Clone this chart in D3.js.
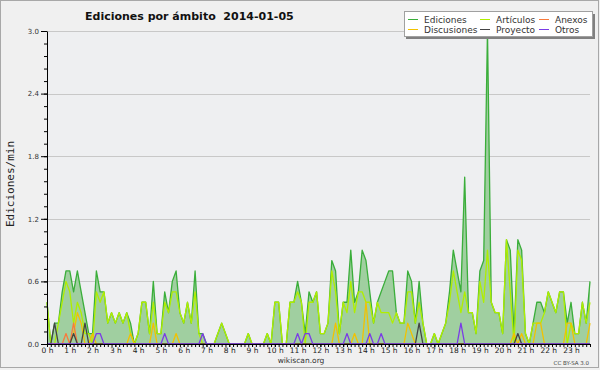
<!DOCTYPE html>
<html>
  <head>
    <meta charset="utf-8">
    <title>Ediciones por ámbito 2014-01-05</title>
    <script src="https://d3js.org/d3.v7.min.js"></script>
    <style>
      body { margin: 0; background: #f0f0f0; }
      svg text { font-family: "DejaVu Sans", sans-serif; }
    </style>
  </head>
  <body>
    <script>

      // one value per 10 minutes (144 steps), in edits per minute
      var ediciones = [
        0.4,0,0.2,0.2,0.5,0.7,0.7,0.5,0.7,0.5,0.3,0.1,
        0.1,0.7,0.5,0.5,0.2,0.3,0.2,0.3,0.2,0.3,0.2,0,
        0.1,0.4,0.4,0.1,0.6,0.1,0.1,0.5,0.3,0.6,0.7,0.3,
        0.2,0.4,0.2,0.7,0.1,0.1,0,0,0,0.1,0.2,0.1,
        0,0,0,0,0,0.1,0,0,0,0,0.1,0,
        0.4,0.4,0,0,0.4,0.4,0.6,0.4,0.1,0.5,0.4,0.5,
        0.1,0.1,0.2,0.8,0.7,0.1,0.4,0.4,0.9,0.4,0.5,0.9,
        0.8,0.5,0.2,0.4,0.5,0.6,0.7,0.7,0.3,0.2,0.2,0.7,
        0.6,0.2,0.6,0.2,0,0,0.1,0,0.1,0.2,0.5,0.9,
        0.7,0.5,1.6,0.3,0.3,0.1,0.7,0.8,3.0,0.4,0.3,0.3,
        0.1,1.0,0.9,0.1,1.0,0.9,0.1,0,0.2,0.4,0.4,0.3,
        0.5,0.4,0.3,0.5,0.5,0.2,0.4,0.1,0.1,0.4,0.2,0.6
      ]
      var articulos = [
        0.4,0,0,0.2,0.4,0.6,0.5,0.2,0.4,0.3,0.1,0.1,
        0,0.5,0.4,0.5,0.2,0.3,0.2,0.3,0.2,0.3,0.1,0,
        0.1,0.4,0.4,0.1,0.4,0.1,0.1,0.4,0.3,0.5,0.5,0.3,
        0.2,0.4,0.2,0.5,0.1,0,0,0,0,0.1,0.2,0.1,
        0,0,0,0,0,0.1,0,0,0,0,0.1,0,
        0.4,0.4,0,0,0.4,0.4,0.5,0.4,0,0.4,0.4,0.5,
        0.1,0.1,0.2,0.7,0.5,0.1,0.4,0.3,0.6,0.3,0.5,0.5,
        0.4,0.4,0.2,0.4,0.3,0.3,0.3,0.2,0.3,0.2,0.2,0.5,
        0.5,0.2,0.4,0.2,0,0,0.1,0,0.1,0.2,0.4,0.7,
        0.5,0.3,0.5,0.3,0.3,0.1,0.6,0.4,0.9,0.4,0.3,0.3,
        0.1,1.0,0.5,0,0.9,0.8,0.1,0,0.2,0.2,0.2,0.3,
        0.5,0.4,0.3,0.5,0.5,0,0.2,0.1,0.1,0.4,0.2,0.4
      ]
      var discusiones = [
        0,0,0,0,0,0,0,0.1,0.3,0.2,0,0,
        0.1,0,0,0,0,0,0,0,0,0,0.1,0,
        0,0,0,0,0.2,0,0,0,0,0,0.1,0,
        0,0,0,0,0,0,0,0,0,0,0,0,
        0,0,0,0,0,0,0,0,0,0,0,0,
        0,0,0,0,0,0,0,0,0,0,0,0,
        0,0,0,0,0.2,0,0,0,0,0.1,0,0,
        0.4,0,0,0,0,0,0,0,0,0,0,0.2,
        0.1,0,0,0,0,0,0,0,0,0,0,0,
        0,0,0,0,0,0,0,0,0,0,0,0,
        0,0,0,0.1,0,0.1,0,0,0,0.2,0.2,0,
        0,0,0,0,0,0.2,0.2,0,0,0,0,0.2
      ]
      var anexos = [
        0,0,0,0,0,0.1,0,0.2,0,0,0,0,
        0,0,0,0,0,0,0,0,0,0,0,0,
        0,0,0,0,0,0,0,0,0,0,0,0,
        0,0,0,0,0,0,0,0,0,0,0,0,
        0,0,0,0,0,0,0,0,0,0,0,0,
        0,0,0,0,0,0,0,0,0,0,0,0,
        0,0,0,0,0,0,0,0,0,0,0,0,
        0,0,0,0,0,0,0,0,0,0,0,0,
        0,0,0,0,0,0,0,0,0,0,0,0,
        0,0,0,0,0,0,0,0,0,0,0,0,
        0,0,0,0,0,0,0,0,0,0,0,0,
        0,0,0,0,0,0,0,0,0,0,0,0
      ]
      var proyecto = [
        0,0,0.2,0,0,0,0,0.1,0,0,0.2,0,
        0,0,0,0,0,0,0,0,0,0,0,0,
        0,0,0,0,0,0,0,0,0,0,0,0,
        0,0,0,0,0,0,0,0,0,0,0,0,
        0,0,0,0,0,0,0,0,0,0,0,0,
        0,0,0,0,0,0,0,0,0,0,0,0,
        0,0,0,0,0,0,0,0,0,0,0,0,
        0,0,0,0,0,0,0,0,0,0,0,0,
        0,0,0.2,0,0,0,0,0,0,0,0,0,
        0,0,0,0,0,0,0,0,0,0,0,0,
        0,0,0,0,0.1,0,0,0,0,0,0,0,
        0,0,0,0,0,0,0,0,0,0,0,0
      ]
      var otros = [
        0,0,0,0,0,0,0,0,0,0,0,0,
        0,0.1,0.1,0,0,0,0,0,0,0,0,0,
        0,0,0,0,0,0,0,0.1,0,0,0,0,
        0,0,0,0,0,0.1,0,0,0,0,0,0,
        0,0,0,0,0,0,0,0,0,0,0,0,
        0,0,0,0,0,0,0.1,0,0.1,0.1,0,0,
        0,0,0,0,0,0,0,0.1,0,0,0,0,
        0,0.1,0,0,0.1,0,0,0,0,0,0,0,
        0,0,0,0,0,0,0,0,0,0,0,0,
        0,0.2,0,0,0,0,0,0,0,0,0,0,
        0,0,0,0,0,0,0,0,0,0,0,0,
        0,0,0,0,0,0,0,0,0,0,0,0
      ]

      var hourLabels = ["0 h","1 h","2 h","3 h","4 h","5 h","6 h","7 h","8 h","9 h","10 h","11 h",
                        "12 h","13 h","14 h","15 h","16 h","17 h","18 h","19 h","20 h","21 h","22 h","23 h"]
      var yTicks = [0, 0.6, 1.2, 1.8, 2.4, 3.0]

      var series = [
        {name: "Ediciones", values: ediciones, color: "#3aae3a", col: 0, row: 0},
        {name: "Artículos", values: articulos, color: "#b0ee00", col: 1, row: 0},
        {name: "Discusiones", values: discusiones, color: "#f2c200", col: 0, row: 1},
        {name: "Anexos", values: anexos, color: "#f87a3c", col: 2, row: 0},
        {name: "Proyecto", values: proyecto, color: "#444444", col: 1, row: 1},
        {name: "Otros", values: otros, color: "#7a3ce6", col: 2, row: 1}
      ]

      var w = 600
      var h = 370
      var plot_left = 47
      var plot_right = 590
      var plot_top = 31
      var plot_bottom = 344

      var svg = d3.select("body")
        .append("svg")
        .attr("width", w)
        .attr("height", h)

      // background and frame
      svg.append("rect")
        .attr("x", 0.5).attr("y", 0.5)
        .attr("width", w - 2).attr("height", h - 3)
        .attr("fill", "#f0f0f0")
        .attr("stroke", "#a8a8a8")

      svg.append("rect")
        .attr("x", plot_left).attr("y", plot_top)
        .attr("width", plot_right - plot_left).attr("height", plot_bottom - plot_top)
        .attr("fill", "#eeeff1")

      var x_scale = d3.scaleLinear()
        .domain([0, ediciones.length - 1])
        .range([plot_left, plot_right])

      var y_scale = d3.scaleLinear()
        .domain([0, 3])
        .range([plot_bottom, plot_top])

      // horizontal grid
      svg.append("g")
        .selectAll("line")
        .data(yTicks.slice(1))
        .enter()
        .append("line")
        .attr("x1", plot_left)
        .attr("x2", plot_right)
        .attr("y1", function(d) { return Math.round(y_scale(d)) + 0.5 })
        .attr("y2", function(d) { return Math.round(y_scale(d)) + 0.5 })
        .attr("stroke", "#c8c8c8")

      // total area
      var area = d3.area()
        .x(function(d, i) { return x_scale(i) })
        .y0(y_scale(0))
        .y1(function(d) { return y_scale(d) })

      svg.append("path")
        .datum(ediciones)
        .attr("d", area)
        .attr("fill", "#a0cfa0")

      var line = d3.line()
        .x(function(d, i) { return x_scale(i) })
        .y(function(d) { return y_scale(d) })

      svg.append("g")
        .selectAll("path")
        .data(series)
        .enter()
        .append("path")
        .attr("d", function(d) { return line(d.values) })
        .attr("fill", "none")
        .attr("stroke", function(d) { return d.color })
        .attr("stroke-width", 1.3)
        .attr("stroke-linejoin", "round")

      // axes
      var y_minor = svg.append("g")
        .attr("transform", "translate(" + plot_left + ",0)")
        .call(d3.axisLeft(y_scale).tickValues(d3.range(0, 3.001, 0.12)).tickSize(3).tickFormat(""))
      y_minor.select(".domain").remove()

      var y_axis = svg.append("g")
        .attr("transform", "translate(" + plot_left + ",0)")
        .call(d3.axisLeft(y_scale).tickValues(yTicks).tickSize(6).tickSizeOuter(0)
          .tickPadding(2).tickFormat(d3.format(".1f")))
      y_axis.selectAll("text")
        .attr("font-size", 7)
        .attr("fill", "#333")
        .style("font-family", "DejaVu Sans")

      var x_minor = svg.append("g")
        .attr("transform", "translate(0," + plot_bottom + ")")
        .call(d3.axisBottom(x_scale).tickValues(d3.range(0, ediciones.length)).tickSize(3).tickFormat(""))
      x_minor.select(".domain").remove()

      var x_axis = svg.append("g")
        .attr("transform", "translate(0," + plot_bottom + ")")
        .call(d3.axisBottom(x_scale).tickValues(d3.range(0, 24).map(function(d) { return d * 6 }))
          .tickSize(3).tickSizeOuter(0).tickPadding(1)
          .tickFormat(function(d, i) { return hourLabels[i] }))
      x_axis.selectAll("text")
        .attr("font-size", 7.5)
        .attr("fill", "#222")
        .style("font-family", "DejaVu Sans")

      svg.selectAll(".domain").attr("stroke", "#000")

      // titles
      svg.append("text")
        .attr("x", 85)
        .attr("y", 20)
        .attr("font-size", 11)
        .attr("font-weight", "bold")
        .attr("fill", "#111")
        .attr("xml:space", "preserve")
        .text("Ediciones por ámbito  2014-01-05")

      svg.append("text")
        .attr("transform", "translate(13.5,184) rotate(-90)")
        .attr("text-anchor", "middle")
        .attr("font-size", 11)
        .attr("fill", "#222")
        .style("font-family", "DejaVu Sans Mono")
        .text("Ediciones/min")

      svg.append("text")
        .attr("x", 301)
        .attr("y", 363)
        .attr("text-anchor", "middle")
        .attr("font-size", 7.5)
        .attr("fill", "#333")
        .text("wikiscan.org")

      svg.append("text")
        .attr("x", 589)
        .attr("y", 364.5)
        .attr("text-anchor", "end")
        .attr("font-size", 5.5)
        .attr("fill", "#444")
        .text("CC BY-SA 3.0")

      // legend
      var legend = svg.append("g")
      legend.append("rect")
        .attr("x", 406).attr("y", 14)
        .attr("width", 189).attr("height", 25)
        .attr("fill", "#808080")
      legend.append("rect")
        .attr("x", 404.5).attr("y", 11.5)
        .attr("width", 188).attr("height", 25)
        .attr("fill", "#fff")
        .attr("stroke", "#a0a0a0")

      var legendX = [408, 480, 539]
      var legendY = [19, 29]
      var items = legend.selectAll(".item")
        .data(series)
        .enter()
        .append("g")
        .attr("transform", function(d) {
          return "translate(" + legendX[d.col] + "," + legendY[d.row] + ")"
        })
      items.append("line")
        .attr("x1", 0).attr("x2", 10)
        .attr("y1", 0.5).attr("y2", 0.5)
        .attr("stroke", function(d) { return d.color })
      items.append("text")
        .attr("x", 16)
        .attr("y", 4)
        .attr("font-size", 9)
        .attr("fill", "#333")
        .text(function(d) { return d.name })

    </script>
  </body>
</html>
